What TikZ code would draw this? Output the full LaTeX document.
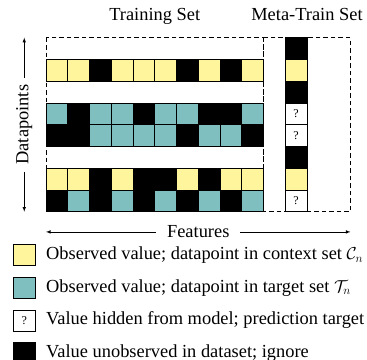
\documentclass[tikz,border=0pt]{standalone}
\usepackage{fontspec}
\setmainfont{Liberation Serif}
\definecolor{ctxyellow}{HTML}{FFF59D}
\definecolor{tgtteal}{HTML}{7FBFBF}
\tikzset{
    cell/.style={draw=black, line width=0.6pt},
    qmark/.style={font=\fontsize{12}{14}\selectfont, inner sep=0pt},
    setbox/.style={dashed, dash pattern=on 4.5pt off 3pt, line width=0.8pt},
    keybox/.style={draw=black, line width=0.6pt, minimum width=21.75pt, minimum height=21pt, inner sep=0pt},
    keytext/.style={anchor=west, inner sep=0pt}
}
\begin{document}
\begin{tikzpicture}[x=21.75pt, y=-21.75pt, font=\fontsize{18.4}{20}\selectfont, >=latex]
    \useasboundingbox (-2.115,-1.733) rectangle (14.759,14.818);
    %titles
    \node[anchor=base] (trainlbl) at (5,-0.81) {Training Set};
    \node[anchor=base] (metalbl) at (12,-0.81) {Meta-Train Set};
    %dashed sets
    \draw[setbox] (0,0) rectangle (10,8);
    \draw[setbox] (10,0) rectangle (14,8);
    %training rows
    \foreach \c [count=\i from 0] in {ctxyellow,ctxyellow,black,ctxyellow,ctxyellow,ctxyellow,black,ctxyellow,black,ctxyellow}
        \filldraw[cell, fill=\c] (\i,1) rectangle ++(1,1);
    \foreach \c [count=\i from 0] in {tgtteal,black,tgtteal,tgtteal,black,tgtteal,tgtteal,black,black,tgtteal}
        \filldraw[cell, fill=\c] (\i,3) rectangle ++(1,1);
    \foreach \c [count=\i from 0] in {black,black,tgtteal,tgtteal,tgtteal,tgtteal,black,tgtteal,tgtteal,black}
        \filldraw[cell, fill=\c] (\i,4) rectangle ++(1,1);
    \foreach \c [count=\i from 0] in {ctxyellow,ctxyellow,black,ctxyellow,black,black,ctxyellow,black,ctxyellow,ctxyellow}
        \filldraw[cell, fill=\c] (\i,6) rectangle ++(1,1);
    \foreach \c [count=\i from 0] in {black,tgtteal,black,tgtteal,black,tgtteal,black,tgtteal,black,tgtteal}
        \filldraw[cell, fill=\c] (\i,7) rectangle ++(1,1);
    %meta-train column
    \foreach \c [count=\j from 0] in {black,ctxyellow,black,white,white,black,ctxyellow,white}
        \filldraw[cell, fill=\c] (11,\j) rectangle ++(1,1);
    \node[qmark] (q3) at (11.5,3.5) {?};
    \node[qmark] (q4) at (11.5,4.5) {?};
    \node[qmark] (q7) at (11.5,7.5) {?};
    %axes
    \coordinate (dtop) at (-1,0);
    \coordinate (dbot) at (-1,8);
    \draw[<->, line width=0.6pt] (dtop) -- (dbot) node[midway, fill=white, rotate=90, inner xsep=7pt] (dlbl) {Datapoints};
    \coordinate (fleft) at (0,8.93);
    \coordinate (fright) at (14,8.93);
    \draw[<->, line width=0.6pt] (fleft) -- (fright) node[midway, fill=white, inner xsep=11pt] (flbl) {Features};
    %legend
    \node[keybox, fill=ctxyellow] (kctx) at (-1,10) {};
    \node[keytext] (tctx) at (0,10) {Observed value; datapoint in context set $\mathcal{C}_n$};
    \node[keybox, fill=tgtteal] (ktgt) at (-1,11.5) {};
    \node[keytext] (ttgt) at (0,11.5) {Observed value; datapoint in target set $\mathcal{T}_n$};
    \node[keybox, fill=white, qmark, minimum width=21.75pt, minimum height=21pt] (khid) at (-1,13) {?};
    \node[keytext] (thid) at (0,13) {Value hidden from model; prediction target};
    \node[keybox, fill=black] (kign) at (-1,14.5) {};
    \node[keytext] (tign) at (0,14.5) {Value unobserved in dataset; ignore};
\end{tikzpicture}
\end{document}
